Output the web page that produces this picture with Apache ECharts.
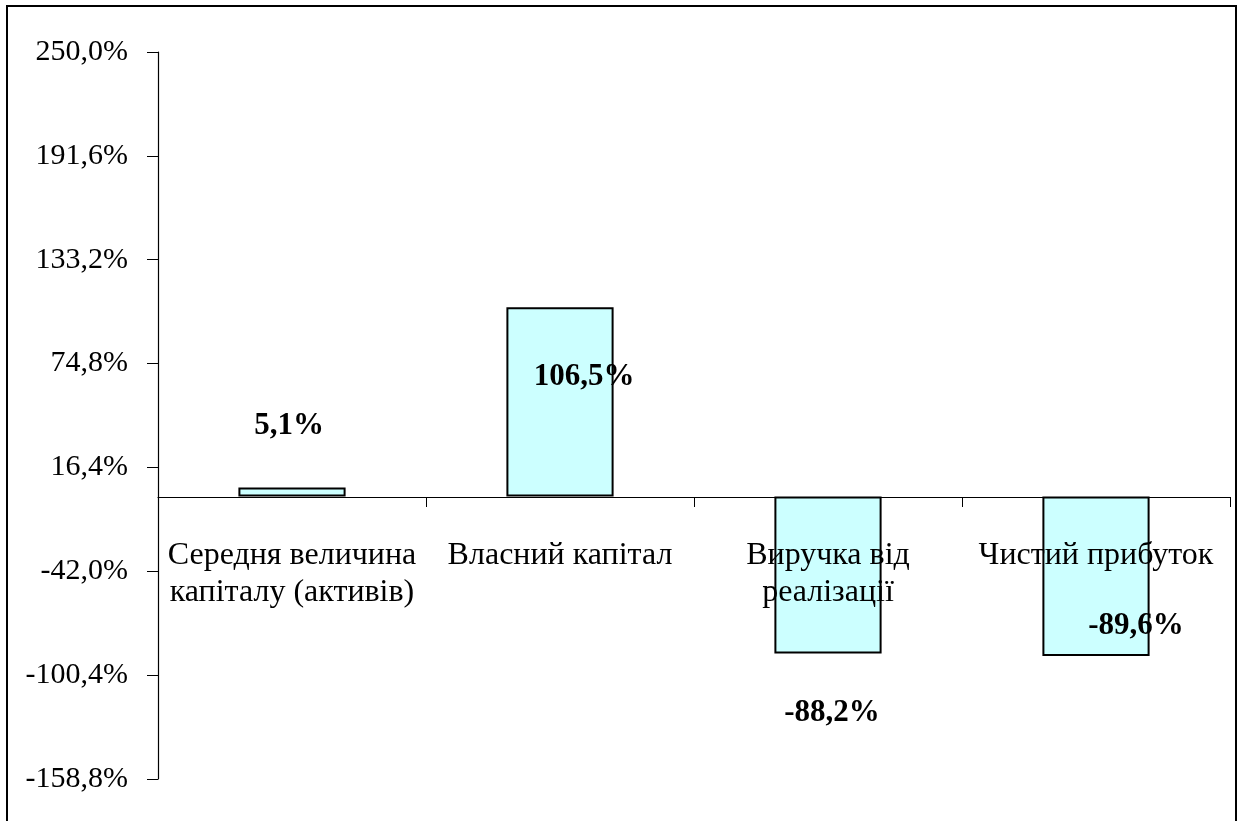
<!DOCTYPE html>
<html>
<head>
<meta charset="utf-8" />
<script src="https://cdn.jsdelivr.net/npm/echarts@6/dist/echarts.min.js"></script>
<style>
  html, body { margin: 0; padding: 0; background: #fff; }
  #chart { width: 1242px; height: 821px; }
</style>
</head>
<body>
<div id="chart"></div>
<script>
// категорії та значення (зміна, %)
const categories = [
  "Середня величина\nкапіталу (активів)",
  "Власний капітал",
  "Виручка від\nреалізації",
  "Чистий прибуток",
];
const values = [5.1, 106.5, -88.2, -89.6];
const valueLabels = ["5,1%", "106,5%", "-88,2%", "-89,6%"];
const yTicks = [-158.8, -100.4, -42.0, 16.4, 74.8, 133.2, 191.6, 250.0];

// зсув підписів відносно центру стовпця (як на оригіналі)
const labelOffsets = [[-3, -66], [24, -25], [4, 138], [40, 50]];

const chart = echarts.init(document.getElementById("chart"));
const font = "'Liberation Serif', 'Times New Roman', serif";

const option = {
  animation: false,
  textStyle: { fontFamily: font },
  graphic: [
    {
      type: "rect",
      shape: { x: 7, y: 6, width: 1229, height: 830 },
      style: { fill: "none", stroke: "#000", lineWidth: 2 },
      silent: true,
    },
  ],
  grid: {
    left: 158,
    right: 12,
    top: 52,
    bottom: 42,
    containLabel: false,
    outerBoundsMode: "none",
  },
  xAxis: {
    type: "category",
    data: categories,
    z: 10,
    // вісь категорій проходить через нуль (зсув від нижнього краю сітки)
    offset: -282,
    axisLine: { onZero: false, lineStyle: { color: "#000", width: 1.2 } },
    axisTick: { show: true, inside: false, length: 10, lineStyle: { color: "#000" } },
    axisLabel: {
      color: "#000",
      fontSize: 32,
      lineHeight: 37,
      margin: 40,
      interval: 0,
      fontFamily: font,
    },
    splitLine: { show: false },
  },
  yAxis: {
    type: "value",
    min: yTicks[0],
    max: yTicks[yTicks.length - 1],
    interval: 58.4,
    axisLine: { show: true, lineStyle: { color: "#000", width: 1.2 } },
    axisTick: { show: true, length: 11, lineStyle: { color: "#000" } },
    axisLabel: {
      color: "#000",
      fontSize: 30,
      margin: 30,
      fontFamily: font,
      formatter: (v) => v.toFixed(1).replace(".", ",") + "%",
    },
    splitLine: { show: false },
  },
  series: [
    {
      type: "bar",
      barWidth: "40%",
      data: values.map((v, i) => ({
        value: v,
        label: {
          show: true,
          position: "inside",
          offset: labelOffsets[i],
          formatter: valueLabels[i],
        },
      })),
      itemStyle: { color: "#CCFFFF", borderColor: "#000", borderWidth: 2 },
      label: {
        color: "#000",
        fontSize: 31,
        fontWeight: "bold",
        fontFamily: font,
      },
    },
  ],
};
chart.setOption(option);
</script>
</body>
</html>
